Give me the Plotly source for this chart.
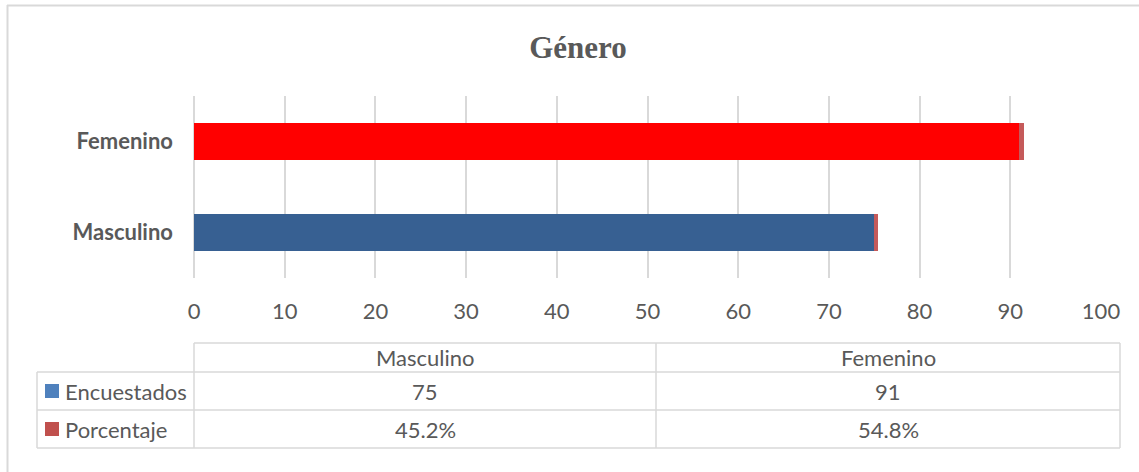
import plotly.graph_objects as go

# ---- data ----
categories = ["Masculino", "Femenino"]
encuestados = [75, 91]
porcentaje = [0.452, 0.548]
series_names = ["Encuestados", "Porcentaje"]
x_ticks = [0, 10, 20, 30, 40, 50, 60, 70, 80, 90, 100]

# ---- style ----
W, H = 1139, 472
PL, PR, PT, PB = 194, 1101, 96, 278  # plot area in pixels
TXT = "#595959"
GRID = "#D9D9D9"
FONT = "Lato, 'Open Sans', sans-serif"
FS = 22
enc_bar_colors = ["#376092", "#FF0000"]
pct_color = "#C55A5A"
legend_colors = ["#4F81BD", "#C0504D"]


def px(x):
    return (x - PL) / (PR - PL)


def py(y):
    return (PB - y) / (PB - PT)


fig = go.Figure()
fig.add_trace(go.Bar(
    y=categories, x=encuestados, orientation="h", name=series_names[0],
    marker=dict(color=enc_bar_colors, line=dict(width=0)),
))
fig.add_trace(go.Bar(
    y=categories, x=porcentaje, orientation="h", name=series_names[1],
    marker=dict(color=pct_color, line=dict(width=0)),
))

shapes = []
annotations = []

# outer chart border (cropped at right and bottom)
shapes.append(dict(type="line", xref="paper", yref="paper",
                   x0=px(7), x1=px(1150), y0=py(5.5), y1=py(5.5),
                   line=dict(color=GRID, width=2)))
shapes.append(dict(type="line", xref="paper", yref="paper",
                   x0=px(7.5), x1=px(7.5), y0=py(5), y1=py(480),
                   line=dict(color=GRID, width=2)))

# data table geometry
col_x = [194, 656, 1120]
label_x0 = 37
row_y = [343, 372, 410, 448]


def hline(x0, x1, y):
    shapes.append(dict(type="line", xref="paper", yref="paper",
                       x0=px(x0), x1=px(x1), y0=py(y), y1=py(y),
                       line=dict(color=GRID, width=1.5)))


def vline(x, y0, y1):
    shapes.append(dict(type="line", xref="paper", yref="paper",
                       x0=px(x), x1=px(x), y0=py(y0), y1=py(y1),
                       line=dict(color=GRID, width=1.5)))


hline(col_x[0], col_x[2], row_y[0])
hline(label_x0, col_x[2], row_y[1])
hline(label_x0, col_x[2], row_y[2])
hline(label_x0, col_x[2], row_y[3])
vline(label_x0, row_y[1], row_y[3])
for cx in col_x:
    vline(cx, row_y[0], row_y[3])


def txt(x, y, s, anchor="center"):
    annotations.append(dict(xref="paper", yref="paper", x=px(x), y=py(y),
                            text=s, showarrow=False, xanchor=anchor,
                            yanchor="middle",
                            font=dict(family=FONT, size=FS, color=TXT)))


# header row
for i, c in enumerate(categories):
    txt((col_x[i] + col_x[i + 1]) / 2, (row_y[0] + row_y[1]) / 2, c)

rows = [
    [str(v) for v in encuestados],
    [f"{v * 100:.1f}%" for v in porcentaje],
]
for r, vals in enumerate(rows):
    yc = (row_y[r + 1] + row_y[r + 2]) / 2
    # legend key
    shapes.append(dict(type="rect", xref="paper", yref="paper",
                       x0=px(45), x1=px(59), y0=py(yc - 7), y1=py(yc + 7),
                       fillcolor=legend_colors[r], line=dict(width=0)))
    txt(63, yc, series_names[r], anchor="left")
    for i, v in enumerate(vals):
        txt((col_x[i] + col_x[i + 1]) / 2, yc, v)

fig.update_layout(
    width=W, height=H,
    margin=dict(l=PL, r=W - PR, t=PT, b=H - PB),
    paper_bgcolor="white", plot_bgcolor="white",
    barmode="stack", bargap=0.6,
    showlegend=False,
    title=dict(text="<b>Género</b>", x=578 / W,
               xanchor="center", y=1 - 47 / H, yanchor="middle",
               font=dict(family="'Liberation Serif', 'Times New Roman', serif",
                         size=31, color=TXT)),
    xaxis=dict(range=[0, 100], tickvals=x_ticks, showgrid=True, gridcolor=GRID,
               gridwidth=1.5, zeroline=True, zerolinecolor=GRID, zerolinewidth=1.5,
               showline=False, ticks="", ticklabelstandoff=18,
               tickfont=dict(family=FONT, size=FS, color=TXT), fixedrange=True),
    yaxis=dict(categoryorder="array", categoryarray=categories, showgrid=False,
               showline=False, ticks="", ticklabelstandoff=20,
               tickfont=dict(family=FONT, size=FS, color=TXT, weight="bold"),
               fixedrange=True),
    shapes=shapes, annotations=annotations,
)

fig.write_html("out.html", config={"displayModeBar": False},
               post_script="document.body.style.margin='0';document.body.style.padding='0';")
